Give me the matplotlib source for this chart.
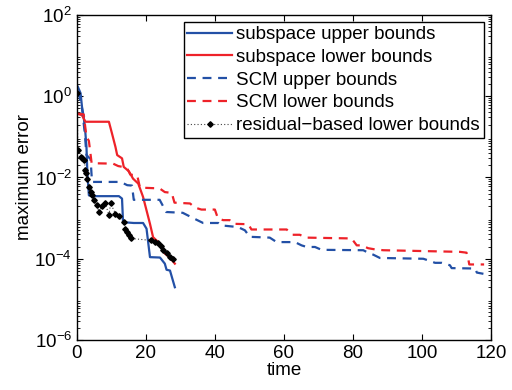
import numpy as np
import matplotlib
matplotlib.use("Agg")
import matplotlib.pyplot as plt

plt.rcParams['font.family'] = ['Liberation Sans', 'DejaVu Sans']

# ---- data (time, log10 of max error) ----
sub_up_t = [0.3, 1.1, 1.5, 2.0, 2.5, 2.8, 2.9, 3.0, 3.2, 3.5, 4.4, 12.2, 13.1, 13.4, 16.5, 19.2,
            20.2, 21.2, 24.1, 25.5, 26.0, 27.0, 28.4]
sub_up_e = [0.23, 0.07, -0.26, -0.51, -0.92, -1.25, -1.5, -1.74, -2.07, -2.44, -2.46, -2.46, -2.52, -3.1, -3.12, -3.12,
            -3.26, -3.96, -3.97, -4.12, -4.27, -4.29, -4.7]

sub_lo_t = [0.1, 1.5, 2.5, 9.3, 10.2, 11.2, 11.7, 13.1, 13.6, 15.1, 16.3, 17.8, 19.2, 20.2,
            21.2, 22.1, 23.6, 24.5, 25.5, 27.0, 28.4]
sub_lo_e = [-0.43, -0.47, -0.63, -0.63, -0.92, -1.25, -1.45, -1.53, -1.74, -1.85, -2.03, -2.15, -2.48, -2.81,
            -3.14, -3.47, -3.59, -3.71, -3.87, -3.97, -4.12]

scm_up_t = [0.5, 1.5, 2.3, 2.8, 4.0, 4.4, 12.7, 14.6, 16.0, 16.5, 24.0, 25.9, 30.7, 33.7, 36.6, 41.0,
            41.9, 46.7, 48.7, 50.1, 55.9, 57.9, 63.2, 65.1, 66.6, 69.0, 70.9, 83.0, 84.4, 85.9,
            87.8, 100.4, 101.8, 103.8, 105.7, 108.1, 108.6, 115.4, 115.9, 117.8]
scm_up_e = [0.1, -0.3, -0.9, -1.45, -1.55, -2.11, -2.11, -2.19, -2.2, -2.55, -2.55, -2.85, -2.87, -3.0, -3.12, -3.12,
            -3.18, -3.22, -3.3, -3.46, -3.48, -3.59, -3.59, -3.67, -3.71, -3.71, -3.78, -3.79, -3.85, -3.9,
            -3.98, -4.0, -4.04, -4.1, -4.1, -4.16, -4.23, -4.24, -4.34, -4.37]

scm_lo_t = [0.2, 2.0, 2.8, 3.5, 4.3, 10.5, 12.0, 14.5, 15.5, 17.5, 18.3, 24.0, 25.5, 27.5, 28.3,
            32.8, 34.2, 36.1, 40.0, 40.9, 42.4, 44.3, 45.3, 49.7, 50.6, 60.8, 62.5, 64.6, 66.5,
            79.6, 81.1, 82.5, 84.4, 86.4, 88.8, 111.0, 112.9, 113.4, 113.7, 118.0]
scm_lo_e = [-0.43, -0.45, -1.0, -1.1, -1.65, -1.66, -1.72, -1.76, -1.93, -1.95, -2.25, -2.27, -2.36, -2.38, -2.62,
            -2.64, -2.74, -2.79, -2.79, -3.01, -3.05, -3.05, -3.14, -3.15, -3.28, -3.28, -3.41, -3.41, -3.48,
            -3.5, -3.67, -3.67, -3.74, -3.77, -3.79, -3.83, -3.85, -4.0, -4.14, -4.14]

res_t = [0.1, 0.3, 1.1, 1.6, 2.2, 2.5, 2.7, 3.0, 3.5, 4.0, 4.4, 5.1, 5.9, 6.4, 7.3, 8.3, 9.3, 9.8,
         11.2, 12.2, 13.6, 14.1, 14.6, 15.1, 15.7, 21.6, 22.6, 23.6, 24.5, 25.0, 26.0, 27.0, 27.9]
res_e = [0.07, -1.33, -1.49, -1.53, -1.58, -1.82, -1.9, -2.03, -2.23, -2.36, -2.44, -2.56, -2.68, -2.85, -2.71, -2.64, -2.93, -2.64,
         -2.89, -2.96, -3.1, -3.26, -3.34, -3.42, -3.5, -3.55, -3.59, -3.61, -3.69, -3.79, -3.87, -3.96, -4.0]

labels = ["subspace upper bounds", "subspace lower bounds", "SCM upper bounds",
          "SCM lower bounds", "residual\u2212based lower bounds"]

blue = '#2350a6'
red = '#ee2229'

fig = plt.figure(figsize=(5.12, 3.9), dpi=100)
ax = fig.add_axes([0.150, 0.128, 0.809, 0.834])

ax.semilogy(sub_up_t, 10.0 ** np.array(sub_up_e), color=blue, lw=1.6, label=labels[0])
ax.semilogy(sub_lo_t, 10.0 ** np.array(sub_lo_e), color=red, lw=1.6, label=labels[1])
ax.semilogy(scm_up_t, 10.0 ** np.array(scm_up_e), color=blue, lw=1.6, ls=(0, (4, 3)), label=labels[2])
ax.semilogy(scm_lo_t, 10.0 ** np.array(scm_lo_e), color=red, lw=1.6, ls=(0, (4, 3)), label=labels[3])
ax.semilogy(res_t, 10.0 ** np.array(res_e), color='#444444', lw=0.8, ls=(0, (1, 2)),
            marker='D', ms=2.8, mfc='black', mec='black', label=labels[4])

ax.set_xlim(0, 120)
ax.set_ylim(1e-6, 1e2)
ax.set_xticks(np.arange(0, 121, 20))
ax.set_yticks([1e-6, 1e-4, 1e-2, 1e0, 1e2])
ax.tick_params(which='both', direction='in', top=True, right=True, labelsize=13.5)
ax.tick_params(which='major', length=4)
ax.tick_params(which='minor', length=2)
for s in ax.spines.values():
    s.set_linewidth(1.0)

ax.set_xlabel("time", fontsize=13.5, labelpad=0)
ax.set_ylabel("maximum error", fontsize=13.5, labelpad=1)

leg = ax.legend(loc='upper right', fontsize=13.5, frameon=True, fancybox=False,
                edgecolor='black', framealpha=1, handlelength=2.4, handletextpad=0.2,
                labelspacing=0.3, borderpad=0.2, borderaxespad=0.4)
leg.get_frame().set_linewidth(1.0)

fig.savefig("out.png", dpi=100)
